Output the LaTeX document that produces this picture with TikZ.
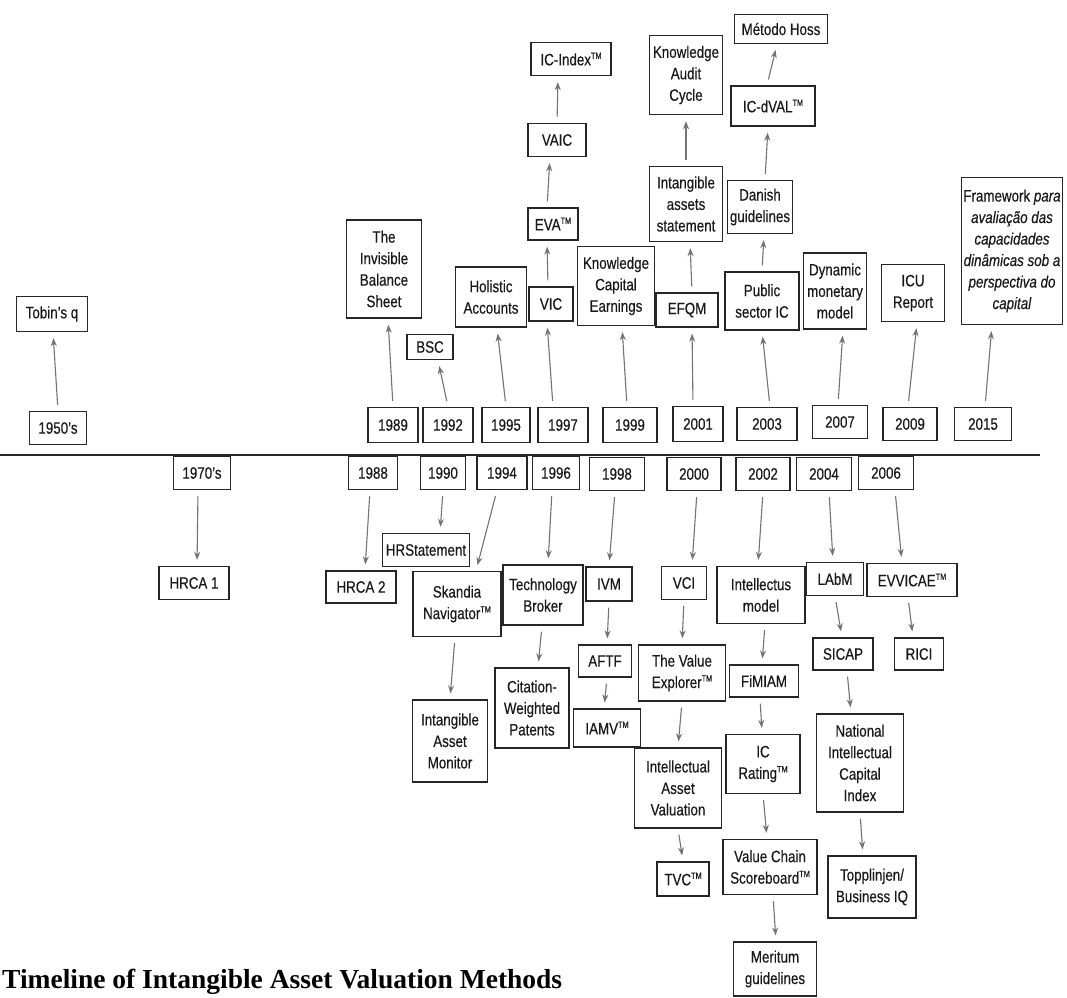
\documentclass[tikz,border=0pt]{standalone}
\usepackage{fontspec}
\setmainfont{Liberation Sans}[FakeStretch=0.81,FakeBold=0.35]
\newfontfamily\titlefont{Liberation Serif}
\usetikzlibrary{arrows.meta}
\newcommand\tmk{\raisebox{0.75ex}{\fontsize{9}{9}\selectfont TM}}
\newcommand\bx[5]{\node[box,minimum width=#3pt,minimum height=#4pt] (#1) at (#2) {#5};}
\begin{document}
\begin{tikzpicture}[x=1pt,y=-1pt,
  box/.style={draw=black!85, line width=1.3pt, align=center, inner sep=1pt,
    font=\fontsize{16.5}{21.5}\selectfont, text=black!90},
  arr/.style={draw=black!55, line width=1.1pt, -{Stealth[length=8pt,width=6pt]},
    shorten <=6pt, shorten >=6pt}]
\useasboundingbox (0,0) rectangle (1067,997);
\fill[white] (0,0) rectangle (1067,997);
% timeline axis
\draw[line width=2.2pt, black!85] (0,455) -- (1040,455);
% ---------- upper year boxes ----------
\bx{y1950}{58,428}{57}{33}{1950's}
\bx{y1989}{393,425}{50}{35}{1989}
\bx{y1992}{448,425}{50}{35}{1992}
\bx{y1995}{506,425}{48}{35}{1995}
\bx{y1997}{563,425}{50}{35}{1997}
\bx{y1999}{630,425}{54}{35}{1999}
\bx{y2001}{698,424}{50}{35}{2001}
\bx{y2003}{767,424}{60}{33}{2003}
\bx{y2007}{840,422}{55}{33}{2007}
\bx{y2009}{910,424}{54}{33}{2009}
\bx{y2015}{983,424}{57}{33}{2015}
% ---------- upper methods ----------
\bx{tobin}{52,314}{71}{35}{Tobin's q}
\bx{ibs}{384,269}{75}{98}{The\\Invisible\\Balance\\Sheet}
\bx{bsc}{430,347}{46}{25}{BSC}
\bx{hol}{491,297}{71}{60}{Holistic\\Accounts}
\bx{vic}{551,304}{44}{34}{VIC}
\bx{kce}{616,286}{77}{79}{Knowledge\\Capital\\Earnings}
\bx{efqm}{687,310}{62}{34}{EFQM}
\bx{psic}{762,301}{74}{58}{Public\\sector IC}
\bx{dmm}{835,291}{63}{76}{Dynamic\\monetary\\model}
\bx{icu}{913,293}{63}{57}{ICU\\Report}
\bx{fw}{1012,251}{101}{147}{Framework \textit{para}\\\textit{avaliação das}\\\textit{capacidades}\\\textit{dinâmicas sob a}\\\textit{perspectiva do}\\\textit{capital}}
\bx{eva}{553,224}{50}{32}{EVA\tmk}
\bx{vaic}{557,140}{58}{33}{VAIC}
\bx{icx}{571,59}{80}{33}{IC-Index\tmk}
\bx{kac}{686,75}{73}{79}{Knowledge\\Audit\\Cycle}
\bx{ias}{686,204}{73}{75}{Intangible\\assets\\statement}
\bx{dan}{760,207}{65}{53}{Danish\\guidelines}
\bx{icd}{773,106}{84}{40}{IC-dVAL\tmk}
\bx{hoss}{781,29}{93}{29}{Método Hoss}
% ---------- lower year boxes ----------
\bx{y1970}{202,473}{57}{33}{1970's}
\bx{y1988}{373,473}{49}{33}{1988}
\bx{y1990}{443,473}{45}{33}{1990}
\bx{y1994}{502,473}{50}{33}{1994}
\bx{y1996}{556,473}{47}{33}{1996}
\bx{y1998}{617,474}{55}{33}{1998}
\bx{y2000}{694,474}{54}{33}{2000}
\bx{y2002}{763,474}{54}{33}{2002}
\bx{y2004}{824,474}{55}{33}{2004}
\bx{y2006}{886,473}{55}{33}{2006}
% ---------- lower methods ----------
\bx{hrca1}{194,583}{70}{33}{HRCA 1}
\bx{hrca2}{361,587}{70}{32}{HRCA 2}
\bx{hrs}{426,550}{87}{33}{HRStatement}
\bx{sk}{457,604}{88}{65}{Skandia\\Navigator\tmk}
\bx{tb}{543,595}{80}{60}{Technology\\Broker}
\bx{ivm}{609,584}{46}{34}{IVM}
\bx{vci}{684,583}{45}{33}{VCI}
\bx{int}{761,595}{88}{57}{Intellectus\\model}
\bx{labm}{835,579}{57}{33}{LAbM}
\bx{evv}{912,580}{90}{33}{EVVICAE\tmk}
\bx{iam}{450,741}{75}{82}{Intangible\\Asset\\Monitor}
\bx{cwp}{532,708}{74}{80}{Citation-\\Weighted\\Patents}
\bx{aftf}{605,661}{53}{32}{AFTF}
\bx{iamv}{607,728}{67}{38}{IAMV\tmk}
\bx{tve}{682,673}{87}{56}{The Value\\Explorer\tmk}
\bx{iav}{678,788}{87}{80}{Intellectual\\Asset\\Valuation}
\bx{tvc}{683,879}{52}{34}{TVC\tmk}
\bx{fim}{764,681}{69}{32}{FiMIAM}
\bx{icr}{763,764}{74}{59}{IC\\Rating\tmk}
\bx{vcs}{770,867}{94}{55}{Value Chain\\Scoreboard\tmk}
\bx{mer}{775,969}{83}{54}{Meritum\\guidelines}
\bx{sicap}{843,654}{60}{32}{SICAP}
\bx{rici}{919,654}{49}{32}{RICI}
\bx{nici}{860,763}{87}{98}{National\\Intellectual\\Capital\\Index}
\bx{top}{872,887}{88}{62}{Topplinjen/\\Business IQ}
% ---------- upper arrows ----------
\draw[arr] (y1950.north) -- ([xshift=1pt]tobin.south);
\draw[arr] (y1989.north) -- ([xshift=4pt]ibs.south);
\draw[arr] (y1992.north) -- ([xshift=8pt]bsc.south);
\draw[arr] (y1995.north) -- ([xshift=6pt]hol.south);
\draw[arr] ([xshift=-10pt]y1997.north) -- ([xshift=-4pt]vic.south);
\draw[arr] ([xshift=-3pt]y1999.north) -- ([xshift=6pt]kce.south);
\draw[arr] ([xshift=-5pt]y2001.north) -- ([xshift=5pt]efqm.south);
\draw[arr] ([xshift=3pt]y2003.north) -- (psic.south);
\draw[arr] ([xshift=-2pt]y2007.north) -- ([xshift=8pt]dmm.south);
\draw[arr] ([xshift=-2pt]y2009.north) -- ([xshift=4pt]icu.south);
\draw[arr] ([xshift=2pt]y2015.north) -- ([xshift=-20pt]fw.south);
\draw[arr] ([xshift=-3pt]vic.north) -- ([xshift=-6pt]eva.south);
\draw[arr] ([xshift=-6pt]eva.north) -- ([xshift=-7pt]vaic.south);
\draw[arr] (vaic.north) -- ([xshift=-13pt]icx.south);
\draw[arr] ([xshift=5pt]efqm.north) -- ([xshift=4pt]ias.south);
\draw[arr] (ias.north) -- (kac.south);
\draw[arr] (psic.north) -- ([xshift=4pt]dan.south);
\draw[arr] ([xshift=5pt]dan.north) -- ([xshift=-5pt]icd.south);
\draw[arr] ([xshift=-6pt]icd.north) -- ([xshift=-4pt]hoss.south);
% ---------- lower arrows ----------
\draw[arr] ([xshift=-4pt]y1970.south) -- ([xshift=3pt]hrca1.north);
\draw[arr] ([xshift=-3pt]y1988.south) -- ([xshift=4pt]hrca2.north);
\draw[arr] (y1990.south) -- ([xshift=14pt]hrs.north);
\draw[arr] ([xshift=-5pt]y1994.south) -- ([xshift=19pt]sk.north);
\draw[arr] ([xshift=-4pt]y1996.south) -- ([xshift=5pt]tb.north);
\draw[arr] ([xshift=-2pt]y1998.south) -- (ivm.north);
\draw[arr] ([xshift=3pt]y2000.south) -- ([xshift=8pt]vci.north);
\draw[arr] (y2002.south) -- ([xshift=-3pt]int.north);
\draw[arr] ([xshift=5pt]y2004.south) -- ([xshift=-2pt]labm.north);
\draw[arr] ([xshift=9pt]y2006.south) -- ([xshift=-10pt]evv.north);
\draw[arr] ([xshift=-2pt]sk.south) -- (iam.north);
\draw[arr] ([xshift=-1pt]tb.south) -- ([xshift=6pt]cwp.north);
\draw[arr] (ivm.south) -- ([xshift=2pt]aftf.north);
\draw[arr] ([xshift=2pt]aftf.south) -- ([xshift=-3pt]iamv.north);
\draw[arr] (vci.south) -- (tve.north);
\draw[arr] (tve.south) -- (iav.north);
\draw[arr] (iav.south) -- (tvc.north);
\draw[arr] ([xshift=4pt]int.south) -- ([xshift=-2pt]fim.north);
\draw[arr] ([xshift=-4pt]fim.south) -- ([xshift=-1pt]icr.north);
\draw[arr] (icr.south) -- ([xshift=-3pt]vcs.north);
\draw[arr] ([xshift=3pt]vcs.south) -- ([xshift=1pt]mer.north);
\draw[arr] (labm.south) -- ([xshift=-1pt]sicap.north);
\draw[arr] ([xshift=-4pt]evv.south) -- ([xshift=-6pt]rici.north);
\draw[arr] ([xshift=4pt]sicap.south) -- ([xshift=-9pt]nici.north);
\draw[arr] (nici.south) -- ([xshift=-9pt]top.north);
% ---------- title ----------
\node[anchor=base west, inner sep=0pt, font=\titlefont\bfseries\fontsize{27.5}{30}\selectfont] (title) at (2,988) {Timeline of Intangible Asset Valuation Methods};
\end{tikzpicture}
\end{document}
